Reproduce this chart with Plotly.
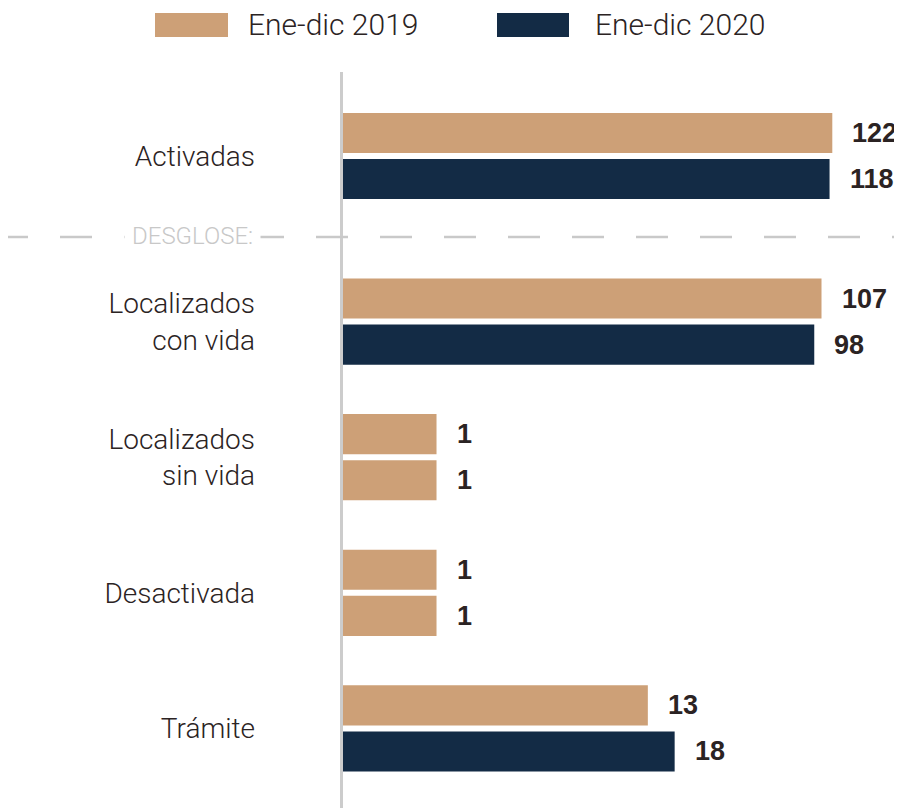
import numpy as np
import plotly.graph_objects as go

# ---------------- data ----------------
categories = ["Activadas", "Localizados<br>con vida", "Localizados<br>sin vida", "Desactivada", "Trámite"]
series_names = ["Ene-dic 2019", "Ene-dic 2020"]
values_2019 = [122, 107, 1, 1, 13]
values_2020 = [118, 98, 1, 1, 18]
section_label = "DESGLOSE:"

# ---------------- style ----------------
TAN = "#CDA077"
NAVY = "#132B45"
TEXT = "#2b2323"
GRID = "#c9c9c9"
colors_2019 = [TAN, TAN, TAN, TAN, TAN]
colors_2020 = [NAVY, NAVY, TAN, TAN, NAVY]

OFF = 8                      # page body margin
W, H = 902 - OFF, 808 - OFF  # figure size
L, R = 343 - OFF, 2
PW = W - L - R
LIGHT = dict(family="Roboto, 'Liberation Sans', Arial, sans-serif", weight=300)
BOLD = dict(family="'Liberation Sans', Arial, sans-serif", weight=700)


def px_x(px):
    """screen x (window pixels) -> paper x"""
    return (px - OFF - L) / PW


def px_y(py):
    """screen y (window pixels) -> paper y"""
    return 1 - (py - OFF) / H


xrange_log = [-0.493, -0.493 + PW / 189.7]

top_cats = categories[:1]
bot_cats = categories[1:]

fig = go.Figure()

panels = [
    ("x", "y", slice(0, 1)),
    ("x2", "y2", slice(1, 5)),
]
series = [
    (series_names[0], values_2019, colors_2019, 23),
    (series_names[1], values_2020, colors_2020, -23),
]

annotations = []
for xa, ya, sl in panels:
    cats = categories[sl]
    for name, vals, cols, yshift in series:
        v = vals[sl]
        fig.add_trace(go.Bar(
            y=cats, x=v, orientation="h", name=name,
            marker=dict(color=cols[sl], line=dict(width=0)),
            xaxis=xa, yaxis=ya, showlegend=False,
            hoverinfo="x+y",
        ))
        for c, val in zip(cats, v):
            annotations.append(dict(
                x=np.log10(val), y=c, xref=xa, yref=ya,
                text=str(val), showarrow=False,
                xanchor="left", yanchor="middle",
                xshift=18, yshift=yshift,
                font=dict(size=27, color=TEXT, **BOLD),
            ))

# section label over the dashed line
annotations.append(dict(
    x=px_x(192), y=px_y(236), xref="paper", yref="paper",
    text=section_label, showarrow=False, xanchor="center", yanchor="middle",
    bgcolor="white", borderpad=7,
    font=dict(size=24, color="#c8c8c8", **LIGHT),
))

# legend (large swatches)
legend_items = [(series_names[0], TAN, 155, 228, 246), (series_names[1], NAVY, 497, 569, 593)]
shapes = []
for name, col, s0, s1, tx in legend_items:
    shapes.append(dict(type="rect", xref="paper", yref="paper",
                       x0=px_x(s0), x1=px_x(s1), y0=px_y(37), y1=px_y(13),
                       fillcolor=col, line=dict(width=0)))
    annotations.append(dict(
        x=px_x(tx), y=px_y(24), xref="paper", yref="paper",
        text=name, showarrow=False, xanchor="left", yanchor="middle",
        font=dict(size=30, color=TEXT, **LIGHT),
    ))

# dashed separator line
shapes.insert(0, dict(type="line", xref="paper", yref="paper",
                      x0=px_x(-4), x1=px_x(905), y0=px_y(237), y1=px_y(237),
                      line=dict(color=GRID, width=2.6, dash="32px,32px"), layer="below"))
# vertical baseline
shapes.insert(0, dict(type="line", xref="paper", yref="paper",
                      x0=px_x(341.5), x1=px_x(341.5), y0=px_y(72), y1=px_y(812),
                      line=dict(color="#cccccc", width=3), layer="below"))

yaxis_common = dict(
    type="category", showgrid=False, zeroline=False, showline=False,
    ticks="", ticklabelstandoff=87,
    tickfont=dict(size=28, color=TEXT, **LIGHT),
)
xaxis_common = dict(type="log", range=xrange_log, visible=False, fixedrange=True)

fig.update_layout(
    width=W, height=H,
    margin=dict(l=L, r=R, t=0, b=0),
    paper_bgcolor="white", plot_bgcolor="white",
    barmode="group", bargap=0.32, bargroupgap=0.13,
    xaxis=dict(**xaxis_common, anchor="y"),
    xaxis2=dict(**xaxis_common, anchor="y2"),
    yaxis=dict(**yaxis_common, domain=[px_y(223.8), px_y(88.2)],
               categoryorder="array", categoryarray=top_cats,
               range=[0.5, -0.5], anchor="x"),
    yaxis2=dict(**yaxis_common, domain=[px_y(796.2), px_y(253.8)],
                categoryorder="array", categoryarray=bot_cats,
                range=[3.5, -0.5], anchor="x2"),
    annotations=annotations,
    shapes=shapes,
    showlegend=False,
    font=dict(color=TEXT, **LIGHT),
)

fig.write_html("out.html")
